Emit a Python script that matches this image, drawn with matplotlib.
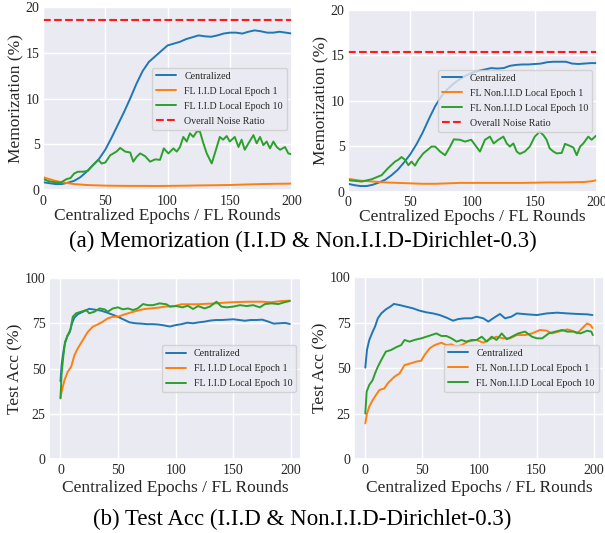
import matplotlib
matplotlib.use("Agg")
import matplotlib.pyplot as plt
import seaborn as sns

sns.set_theme(style="darkgrid")
plt.rcParams['font.family'] = ['Liberation Serif', 'DejaVu Serif']
plt.rcParams['mathtext.fontset'] = 'stix'

# ---------------- Data: Memorization, I.I.D ----------------
mem_iid_cent_x = [0, 5, 10, 15, 20, 25, 30, 35, 40, 45, 50, 55, 60, 65, 70, 75, 80, 85, 90, 95,
                  100, 105, 110, 115, 120, 125, 130, 135, 140, 145, 150, 155, 160, 165, 170, 175,
                  180, 185, 190, 195, 200]
mem_iid_cent_y = [0.85, 0.75, 0.65, 0.65, 0.8, 1.0, 1.4, 2.0, 2.7, 3.4, 4.4, 5.7, 7.1, 8.5, 10.0,
                  11.6, 13.0, 14.0, 14.6, 15.2, 15.8, 16.0, 16.2, 16.5, 16.7, 16.9, 16.8, 16.75,
                  16.9, 17.1, 17.2, 17.2, 17.1, 17.3, 17.45, 17.35, 17.2, 17.2, 17.3, 17.2, 17.1]
mem_iid_ep1_x = [0, 5, 10, 15, 20, 25, 30, 35, 40, 45, 50, 60, 70, 80, 90, 100, 112, 125, 137,
                 150, 162, 175, 187, 200]
mem_iid_ep1_y = [1.4, 1.2, 1.0, 0.85, 0.75, 0.65, 0.6, 0.55, 0.52, 0.5, 0.48, 0.46, 0.45, 0.45,
                 0.44, 0.45, 0.47, 0.5, 0.52, 0.55, 0.6, 0.65, 0.68, 0.7]
mem_iid_ep10_x = [0, 5, 10, 14, 19, 22, 25, 28, 32, 36, 38, 40, 44.5, 47, 50, 54, 56.5, 59, 62,
                  66, 70, 72.5, 75, 78, 82, 86, 90, 94, 97, 100.7, 104.7, 107.4, 110, 112.7,
                  115.4, 118, 120.7, 123.5, 126, 128.8, 131.5, 135.5, 138, 142, 144.7, 147.5,
                  150, 154, 157, 159.5, 162, 165, 169, 171.6, 174.3, 177, 179.6, 182.3, 185,
                  187.7, 190.4, 194.4, 197, 200]
mem_iid_ep10_y = [1.2, 0.95, 0.85, 0.8, 1.2, 1.3, 1.8, 2.0, 2.0, 2.1, 2.4, 2.7, 3.3, 2.9, 3.0,
                  3.8, 4.0, 4.2, 4.6, 4.2, 4.1, 3.1, 3.6, 4.0, 3.7, 3.1, 3.35, 3.3, 4.55, 4.0,
                  4.55, 4.2, 4.7, 5.8, 5.3, 6.2, 5.8, 6.4, 6.4, 5.1, 4.0, 2.9, 4.0, 5.8, 5.5,
                  5.9, 5.3, 5.8, 4.7, 5.5, 4.4, 5.1, 6.0, 5.1, 5.8, 4.9, 5.3, 4.55, 5.3, 4.7,
                  4.4, 4.7, 4.0, 3.9]
mem_iid_noise = 18.6

# ---------------- Data: Memorization, Non.I.I.D ----------------
mem_non_cent_x = mem_iid_cent_x
mem_non_cent_y = [0.85, 0.7, 0.6, 0.6, 0.75, 1.0, 1.3, 1.8, 2.4, 3.2, 4.1, 5.2, 6.5, 8.0, 9.4,
                  10.5, 11.3, 11.9, 12.4, 12.8, 13.1, 13.3, 13.45, 13.6, 13.55, 13.6, 13.85,
                  13.95, 14.0, 14.0, 14.05, 14.1, 14.25, 14.3, 14.3, 14.3, 14.1, 14.05, 14.1,
                  14.15, 14.15]
mem_non_ep1_x = [0, 5, 10, 20, 30, 40, 50, 60, 70, 80, 90, 100, 110, 120, 130, 140, 150, 160,
                 170, 180, 190, 195, 200]
mem_non_ep1_y = [1.4, 1.3, 1.2, 1.1, 1.0, 0.95, 0.9, 0.85, 0.85, 0.9, 0.95, 0.95, 0.95, 0.95,
                 0.95, 0.95, 0.97, 1.0, 1.0, 1.02, 1.05, 1.12, 1.25]
mem_non_ep10_x = [0, 11, 19, 27, 32, 37.8, 40.4, 43, 45.8, 48.5, 51, 53.8, 56.5, 60.5, 64.5, 67,
                  70, 74, 78, 82, 85, 90, 94, 99, 103, 106, 110, 114, 117, 120.7, 124.8, 127.5,
                  130, 132.8, 135.5, 138, 142, 146, 150, 154, 157, 159.5, 162, 165, 167.6,
                  171.6, 174.3, 177, 181, 183.7, 186.4, 189, 193, 195.7, 198.4, 200]
mem_non_ep10_y = [1.25, 1.1, 1.35, 1.8, 2.55, 3.3, 3.5, 3.8, 3.5, 2.9, 3.3, 2.85, 3.5, 4.2,
                  4.65, 4.95, 4.95, 4.4, 4.0, 4.95, 5.75, 5.7, 5.5, 5.7, 4.95, 4.4, 5.7, 6.05,
                  5.3, 5.7, 6.05, 5.3, 4.95, 5.3, 4.4, 4.15, 4.4, 4.95, 6.05, 6.6, 6.2, 5.7,
                  4.75, 4.4, 4.2, 4.25, 5.25, 5.1, 4.85, 4.0, 4.95, 5.3, 6.05, 5.7, 6.05, 6.2]
mem_non_noise = 15.35

# ---------------- Data: Test Acc, I.I.D ----------------
acc_iid_cent_x = [0, 1, 2, 3, 4, 5, 6, 8, 10, 12, 15, 20, 25, 30, 35, 40, 45, 50, 55, 60, 65,
                  70, 75, 80, 85, 90, 95, 100, 105, 110, 115, 120, 125, 130, 135, 140, 145, 150,
                  155, 160, 165, 170, 175, 180, 185, 190, 195, 199]
acc_iid_cent_y = [43, 52, 57, 61, 64, 66, 68, 70, 75, 78, 80, 81.5, 83, 82.5, 82, 81, 79.8,
                  78.5, 77, 75.5, 75, 74.8, 74.5, 74.5, 74.3, 73.8, 73.2, 74, 74.5, 75.3, 75,
                  75.5, 75.9, 76.5, 76.8, 76.8, 77, 77.2, 76.8, 76.4, 76.8, 76.8, 77, 76, 74.8,
                  75, 75.2, 74.6]
acc_iid_ep1_x = [0, 1, 3.5, 6.4, 9.3, 12.2, 15, 19.4, 23.8, 28, 32.5, 36.8, 41, 45.5, 49.8,
                 55.6, 61.4, 67, 73, 78.8, 84.6, 90.4, 99, 105, 119.5, 134, 148, 163, 174.5,
                 183, 191.9, 199]
acc_iid_ep1_y = [34, 37.2, 43.6, 48.3, 51, 57.5, 61.1, 65.7, 70.3, 73.1, 74.4, 75.9, 77.7,
                 78.6, 78.6, 79.9, 81, 82, 82.9, 83.2, 83.6, 84.2, 84.5, 85.5, 85.5, 86, 86.6,
                 86.9, 86.9, 86.6, 87.3, 87.5]
acc_iid_ep10_x = [0, 1, 2.6, 4, 6.4, 8.7, 10.7, 13.6, 18, 22.3, 25, 29.6, 33.9, 38.3, 41, 45.5,
                  49.8, 54.2, 58.6, 62.9, 67, 71.6, 76, 80.3, 86, 91.9, 95, 100.6, 106, 110.6,
                  115, 119.5, 125, 129.6, 135.4, 139.7, 144, 149.9, 155.7, 161.4, 167.2, 173,
                  177.4, 183, 189, 194.8, 199]
acc_iid_ep10_y = [33.5, 47.3, 57.5, 64.8, 68.5, 71.6, 78.6, 80.5, 81.4, 82.3, 80.5, 81.4, 83.2,
                  82.7, 81.4, 83.2, 83.8, 82.7, 83.2, 82.3, 83.2, 85.6, 85, 85, 86, 85.5, 84.2,
                  84.5, 83.8, 84.7, 82.9, 84.5, 83.2, 84.2, 86.9, 84.2, 83.8, 84.2, 85, 84.5,
                  85, 83.8, 85.6, 86, 85.6, 86.7, 87.3]

# ---------------- Data: Test Acc, Non.I.I.D ----------------
acc_non_cent_x = [0, 1.5, 3.5, 6.5, 8.5, 11, 14, 18, 22.6, 25, 30, 35.8, 41.7, 47.6, 53.5,
                  59.3, 65.2, 71, 76.9, 81.4, 87, 93, 97.5, 103.4, 107.8, 112, 118, 122.4, 128,
                  132.7, 141.5, 150.4, 159, 168, 177, 185.6, 194.4, 199]
acc_non_cent_y = [50.2, 60, 65.4, 70, 72.7, 77.3, 80, 82.2, 84, 85.2, 84.6, 83.7, 82.8, 81.5,
                  80.6, 80, 79.1, 77.7, 76, 76.9, 77.3, 77.3, 78.2, 77.3, 75.5, 77.3, 79.7,
                  77.3, 78.2, 80, 79.5, 79.1, 80, 80.4, 80, 79.7, 79.5, 79.1]
acc_non_ep1_x = [0, 1.5, 3.5, 6.5, 9.4, 12.3, 16.7, 19.7, 25.5, 30, 34.4, 40, 44.6, 49, 51.9,
                 56.4, 60.8, 66.7, 71, 75.5, 80, 84.3, 90, 97.5, 103.4, 109, 115, 121, 126.8,
                 132.7, 140, 146, 153, 159, 163.6, 169.4, 177, 181.2, 185.6, 190, 194.4, 197.3,
                 199]
acc_non_ep1_y = [19.6, 25, 28.8, 32.4, 35.2, 37.9, 38.8, 41.6, 45.2, 47, 51.6, 52.6, 53.5, 54,
                 57.1, 60.8, 62.6, 63.9, 62.6, 63, 61.7, 62.6, 64.5, 65.4, 63.9, 65.8, 67.2,
                 66.3, 66.3, 68.1, 68.1, 69, 70.9, 70.5, 69, 70, 71.2, 70.5, 69, 71.8, 74.5,
                 73.6, 72]
acc_non_ep10_x = [0, 1.2, 3.5, 6.5, 8.5, 11, 14, 18, 22.6, 27, 31.4, 34.4, 38.8, 43, 49, 53.5,
                  57.9, 62.3, 66.7, 71, 75.5, 80, 84.3, 88.7, 93, 97.5, 102, 106.4, 110.7, 115,
                  119.5, 124, 128.4, 134, 140, 146, 150.4, 155, 160.7, 166.5, 172.4, 177,
                  182.6, 188.5, 194.4, 198, 199.3]
acc_non_ep10_y = [25, 37, 40.7, 43.4, 47, 50.7, 54.4, 59, 59.9, 61.4, 62.6, 65.4, 64.5, 65.4,
                  66.3, 67.2, 68.1, 69, 67.6, 67.6, 66.3, 64.5, 65.4, 64.5, 65.4, 65.4, 67.2,
                  64.5, 67.2, 65.4, 69, 65.8, 67.2, 69, 70, 67.2, 66.3, 66.3, 69, 70, 70.9, 70,
                  70, 69, 70.5, 70, 68.1]

labels_iid = ["Centralized", "FL I.I.D Local Epoch 1", "FL I.I.D Local Epoch 10"]
labels_non = ["Centralized", "FL Non.I.I.D Local Epoch 1", "FL Non.I.I.D Local Epoch 10"]
noise_label = "Overall Noise Ratio"
xlabel = "Centralized Epochs / FL Rounds"
ylabel_mem = "Memorization (%)"
ylabel_acc = "Test Acc (%)"
caption_a = "(a) Memorization (I.I.D & Non.I.I.D-Dirichlet-0.3)"
caption_b = "(b) Test Acc (I.I.D & Non.I.I.D-Dirichlet-0.3)"

C_BLUE = "#1f77b4"
C_ORANGE = "#ff7f0e"
C_GREEN = "#2ca02c"
C_RED = "#ff1a1a"

fig = plt.figure(figsize=(6.05, 5.33), dpi=100)
ax_tl = fig.add_axes([0.0711, 0.6435, 0.4116, 0.3433])
ax_tr = fig.add_axes([0.5752, 0.6407, 0.4116, 0.3405])
ax_bl = fig.add_axes([0.0810, 0.1388, 0.4170, 0.3396])
ax_br = fig.add_axes([0.5850, 0.1388, 0.4130, 0.3415])

LW = 1.4
LAB_FS = 12.5
TICK_FS = 10
LEG_FS = 7.2


def style(ax, ylabel, xpad):
    ax.set_xticks([0, 50, 100, 150, 200])
    ax.set_xlabel(xlabel, fontsize=LAB_FS, labelpad=xpad)
    ax.set_ylabel(ylabel, fontsize=LAB_FS, labelpad=1)
    ax.tick_params(axis="y", labelsize=TICK_FS, length=0, pad=2.5)
    ax.tick_params(axis="x", labelsize=TICK_FS, length=0, pad=3.5)
    ax.legend(loc="center right", fontsize=LEG_FS, framealpha=0.8, labelspacing=0.6)


def mem_panel(ax, cx, cy, e1x, e1y, e10x, e10y, noise, labels):
    ax.plot(cx, cy, color=C_BLUE, lw=LW, label=labels[0])
    ax.plot(e1x, e1y, color=C_ORANGE, lw=LW, label=labels[1])
    ax.plot(e10x, e10y, color=C_GREEN, lw=LW, label=labels[2])
    ax.axhline(noise, color=C_RED, lw=1.5, ls="--", label=noise_label)
    ax.set_xlim(0, 200)
    ax.set_ylim(0, 20)
    ax.set_yticks([0, 5, 10, 15, 20])
    style(ax, ylabel_mem, 0)


def acc_panel(ax, cx, cy, e1x, e1y, e10x, e10y, labels):
    ax.plot(cx, cy, color=C_BLUE, lw=LW, label=labels[0])
    ax.plot(e1x, e1y, color=C_ORANGE, lw=LW, label=labels[1])
    ax.plot(e10x, e10y, color=C_GREEN, lw=LW, label=labels[2])
    ax.set_xlim(-9.95, 208.95)
    ax.set_ylim(0, 100)
    ax.set_yticks([0, 25, 50, 75, 100])
    style(ax, ylabel_acc, 2)


mem_panel(ax_tl, mem_iid_cent_x, mem_iid_cent_y, mem_iid_ep1_x, mem_iid_ep1_y,
          mem_iid_ep10_x, mem_iid_ep10_y, mem_iid_noise, labels_iid)
mem_panel(ax_tr, mem_non_cent_x, mem_non_cent_y, mem_non_ep1_x, mem_non_ep1_y,
          mem_non_ep10_x, mem_non_ep10_y, mem_non_noise, labels_non)
acc_panel(ax_bl, acc_iid_cent_x, acc_iid_cent_y, acc_iid_ep1_x, acc_iid_ep1_y,
          acc_iid_ep10_x, acc_iid_ep10_y, labels_iid)
acc_panel(ax_br, acc_non_cent_x, acc_non_cent_y, acc_non_ep1_x, acc_non_ep1_y,
          acc_non_ep10_x, acc_non_ep10_y, labels_non)

fig.text(0.5, 1 - 241 / 533, caption_a, ha="center", va="center", fontsize=16.5, color="black")
fig.text(0.5, 1 - 519 / 533, caption_b, ha="center", va="center", fontsize=16.5, color="black")

fig.savefig("out.png", dpi=100)
